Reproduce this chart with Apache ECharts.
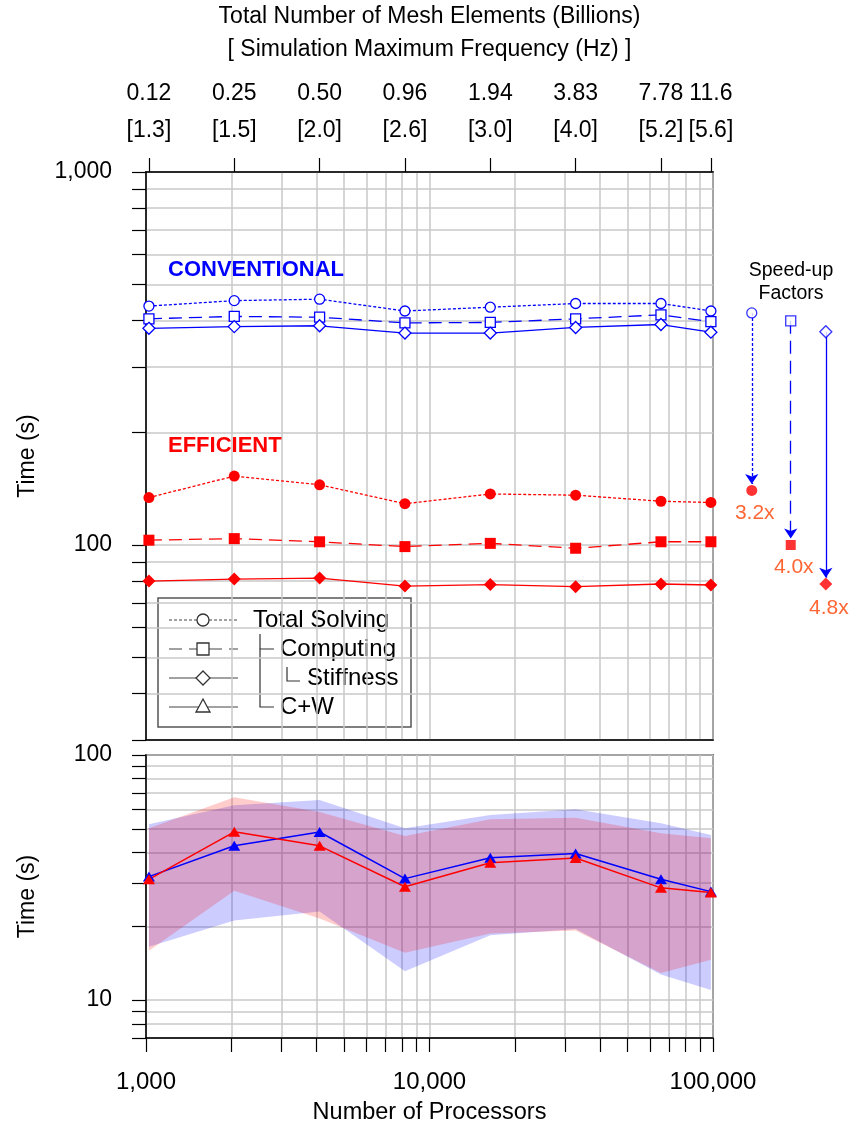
<!DOCTYPE html>
<html>
<head>
<meta charset="utf-8">
<script src="https://cdn.jsdelivr.net/npm/echarts@6/dist/echarts.min.js"></script>
<style>
  html, body { margin: 0; padding: 0; background: #fff; }
  #chart { width: 849px; height: 1134px; }
</style>
</head>
<body>
<div id="chart"></div>
<script>
// processors (x) and the matching top-axis labels
const processors = [1024, 2048, 4096, 8192, 16384, 32768, 65536, 98304];
const meshElements = ['0.12', '0.25', '0.50', '0.96', '1.94', '3.83', '7.78', '11.6'];
const maxFrequency = ['1.3', '1.5', '2.0', '2.6', '3.0', '4.0', '5.2', '5.6'];

// top panel (s)
const convTotal = [437, 452, 456, 424, 434, 444, 444, 424];
const convComputing = [404, 410, 408, 394, 395, 404, 414, 397];
const convStiffness = [381, 385, 387, 370, 370, 383, 390, 372];
const effTotal = [134, 153, 145, 129, 137, 136, 131, 130];
const effComputing = [103, 104, 102, 99, 101, 98, 102, 102];
const effStiffness = [80, 81, 81.5, 77.6, 78.3, 77.3, 78.6, 78.1];

// bottom panel C+W (s) and their ranges
const convCW = [31.9, 42.6, 48.5, 31.3, 38.1, 39.6, 31.1, 27.7];
const effCW = [31.1, 48.6, 42.6, 29.0, 36.3, 38.0, 28.7, 27.5];
const convCWLow = [16.5, 21.1, 23.0, 13.1, 18.4, 19.5, 12.7, 11.0];
const convCWHigh = [52.2, 62.4, 65.5, 50.2, 56.9, 60.0, 52.6, 47.2];
const effCWLow = [15.9, 27.9, 21.5, 15.6, 18.7, 19.2, 12.9, 14.6];
const effCWHigh = [50.2, 67.2, 58.5, 46.7, 54.7, 55.5, 47.9, 45.7];

// speed-up factors (drawn right of the plot)
const speedupX = [137000, 188000, 250000];
const speedupFrom = [419, 399, 373];
const speedupTo = [140, 100, 78.6];
const speedupLabels = ['3.2x', '4.0x', '4.8x'];

// tick values
const xTicks = [1000, 2000, 3000, 4000, 5000, 6000, 7000, 8000, 9000, 10000, 20000, 30000, 40000, 50000, 60000, 70000, 80000, 90000, 100000];
const xLabels = [1000, 10000, 100000];
const topYTicks = [30, 40, 50, 60, 70, 80, 90, 100, 200, 300, 400, 500, 600, 700, 800, 900, 1000];
const topYLabels = [100, 1000];
const botYTicks = [7, 8, 9, 10, 20, 30, 40, 50, 60, 70, 80, 90, 100];
const botYLabels = [10, 100];

const FONT = '"Liberation Sans", Arial, sans-serif';
const BLUE = '#0000ff';
const RED = '#ff0000';
const GRIDC = '#c8c8c8';

const fmt = v => Math.round(v).toLocaleString('en-US');
const pts = arr => processors.map((p, i) => [p, arr[i]]);

function xAxisLog(gridIndex, extra) {
    return Object.assign({
        type: 'log', logBase: 10, gridIndex: gridIndex, min: 1000, max: 100000,
        axisLine: { show: true, onZero: false, lineStyle: { color: '#000', width: 1.5 } },
        axisTick: { show: true, customValues: xTicks, length: 14, lineStyle: { color: '#000', width: 1.2 } },
        axisLabel: { show: false },
        splitLine: { show: true, lineStyle: { color: GRIDC, width: 1.5 } },
        minorTick: { show: false }, minorSplitLine: { show: false }
    }, extra);
}
function yAxisLog(gridIndex, min, max, ticks, labels) {
    return {
        type: 'log', logBase: 10, gridIndex: gridIndex, min: min, max: max,
        name: 'Time (s)', nameLocation: 'middle', nameGap: 107, nameMoveOverlap: false,
        nameTextStyle: { fontSize: 23, color: '#000', fontFamily: FONT },
        axisLine: { show: true, onZero: false, lineStyle: { color: '#000', width: 1.5 } },
        axisTick: { show: true, customValues: ticks, length: 14, lineStyle: { color: '#000', width: 1.2 } },
        axisLabel: { customValues: labels, formatter: fmt, fontSize: 23, color: '#000', fontFamily: FONT, margin: 34 },
        splitLine: { show: true, lineStyle: { color: GRIDC, width: 1.5 } },
        minorTick: { show: false }, minorSplitLine: { show: false }
    };
}

function topLine(name, data, color, symbol, size, dash, hollow) {
    return {
        name: name, type: 'line', xAxisIndex: 0, yAxisIndex: 0, data: pts(data),
        symbol: symbol, symbolSize: size, showAllSymbol: true,
        lineStyle: { color: color, width: 1.3, type: dash },
        itemStyle: hollow ? { color: '#fff', borderColor: color, borderWidth: 1.3 } : { color: color },
        z: 5
    };
}

// range band drawn as one polygon through the axes
function band(name, low, high, color) {
    return {
        name: name, type: 'custom', xAxisIndex: 2, yAxisIndex: 1, silent: true, z: 2,
        data: processors.map((p, i) => [p, low[i], high[i]]),
        encode: { x: 0, y: [1, 2] },
        renderItem: function (params, api) {
            if (params.dataIndex !== 0) return null;
            const upper = processors.map((p, i) => api.coord([p, high[i]]));
            const lower = processors.map((p, i) => api.coord([p, low[i]])).reverse();
            return { type: 'polygon', shape: { points: upper.concat(lower) }, style: { fill: color } };
        }
    };
}

const speedTopSymbols = ['circle', 'rect', 'diamond'];
const speedTopSizes = [10, 10, 12];
const speedBotSizes = [11, 10, 13];
const speedDash = [[3, 2], [13, 7], 'solid'];

const chart = echarts.init(document.getElementById('chart'), null, { renderer: 'canvas' });

const legendX = 158, legendY = 598;
const legendRows = [620, 649, 678, 707];

const option = {
    animation: false,
    backgroundColor: '#fff',
    textStyle: { fontFamily: FONT },
    grid: [
        { left: 146, top: 172, width: 567, height: 568, show: true, borderColor: '#000', borderWidth: 1.5, outerBoundsMode: 'none', containLabel: false },
        { left: 146, top: 755, width: 567, height: 283, show: true, borderColor: '#000', borderWidth: 1.5, outerBoundsMode: 'none', containLabel: false }
    ],
    xAxis: [
        xAxisLog(0, { axisTick: { show: false, customValues: xTicks } }),
        {
            type: 'log', logBase: 10, gridIndex: 0, position: 'top', min: 1000, max: 100000,
            name: 'Total Number of Mesh Elements (Billions)\n[ Simulation Maximum Frequency (Hz) ]',
            nameLocation: 'middle', nameGap: 106, nameMoveOverlap: false,
            nameTextStyle: { fontSize: 23, lineHeight: 33, color: '#000', fontFamily: FONT },
            axisLine: { show: true, onZero: false, lineStyle: { color: '#000', width: 1.5 } },
            axisTick: { show: true, customValues: processors, length: 14, lineStyle: { color: '#000', width: 1.2 } },
            axisLabel: {
                customValues: processors, fontSize: 23, lineHeight: 37, color: '#000', fontFamily: FONT, margin: 23,
                formatter: v => {
                    let best = 0;
                    processors.forEach((p, i) => { if (Math.abs(Math.log(p / v)) < Math.abs(Math.log(processors[best] / v))) best = i; });
                    return meshElements[best] + '\n[' + maxFrequency[best] + ']';
                }
            },
            splitLine: { show: false }, minorTick: { show: false }
        },
        xAxisLog(1, {
            name: 'Number of Processors', nameLocation: 'middle', nameGap: 63, nameMoveOverlap: false,
            nameTextStyle: { fontSize: 23.5, color: '#000', fontFamily: FONT },
            axisLabel: { show: true, customValues: xLabels, formatter: fmt, fontSize: 24, color: '#000', fontFamily: FONT, margin: 32 }
        })
    ],
    yAxis: [
        yAxisLog(0, 30, 1000, topYTicks, topYLabels),
        yAxisLog(1, 7, 100, botYTicks, botYLabels)
    ],
    series: [
        topLine('Conv Total', convTotal, BLUE, 'circle', 10, [3, 2], true),
        topLine('Conv Computing', convComputing, BLUE, 'rect', 10, [13, 7], true),
        topLine('Conv Stiffness', convStiffness, BLUE, 'diamond', 12, 'solid', true),
        topLine('Eff Total', effTotal, RED, 'circle', 11, [3, 2], false),
        topLine('Eff Computing', effComputing, RED, 'rect', 11, [13, 7], false),
        topLine('Eff Stiffness', effStiffness, RED, 'diamond', 13, 'solid', false),
        // speed-up arrows
        {
            type: 'lines', coordinateSystem: 'cartesian2d', xAxisIndex: 0, yAxisIndex: 0, clip: false,
            symbol: ['none', 'arrow'], symbolSize: 10, z: 4,
            data: speedupX.map((x, i) => ({
                coords: [[x, speedupFrom[i]], [x, speedupTo[i] * 1.04]],
                lineStyle: { color: BLUE, width: 1.3, type: speedDash[i], opacity: 1 }
            }))
        },
        {
            type: 'scatter', xAxisIndex: 0, yAxisIndex: 0, clip: false, z: 6,
            data: speedupX.map((x, i) => ({
                value: [x, speedupFrom[i]], symbol: speedTopSymbols[i], symbolSize: speedTopSizes[i]
            })),
            itemStyle: { color: '#fff', borderColor: BLUE, borderWidth: 1.3 }
        },
        {
            type: 'scatter', xAxisIndex: 0, yAxisIndex: 0, clip: false, z: 6,
            data: speedupX.map((x, i) => ({
                value: [x, speedupTo[i]], symbol: speedTopSymbols[i], symbolSize: speedBotSizes[i]
            })),
            itemStyle: { color: RED },
            label: {
                show: true, position: 'bottom', distance: 7, offset: [3, 0], color: '#ff4000', fontSize: 21, fontFamily: FONT,
                formatter: p => speedupLabels[p.dataIndex]
            }
        },
        // bottom panel ranges
        band('convBand', convCWLow, convCWHigh, 'rgba(0,0,255,0.2)'),
        band('effBand', effCWLow, effCWHigh, 'rgba(255,0,0,0.2)'),
        {
            name: 'Conv C+W', type: 'line', xAxisIndex: 2, yAxisIndex: 1, data: pts(convCW),
            symbol: 'triangle', symbolSize: [12, 10], lineStyle: { color: BLUE, width: 1.5 }, itemStyle: { color: BLUE }, z: 5
        },
        {
            name: 'Eff C+W', type: 'line', xAxisIndex: 2, yAxisIndex: 1, data: pts(effCW),
            symbol: 'triangle', symbolSize: [12, 10], lineStyle: { color: RED, width: 1.5 }, itemStyle: { color: RED }, z: 5
        }
    ],
    graphic: [
        { type: 'text', left: 168, top: 259, z: 10, style: { text: 'CONVENTIONAL', fill: BLUE, font: 'bold 22px ' + FONT } },
        { type: 'text', left: 168, top: 435, z: 10, style: { text: 'EFFICIENT', fill: RED, font: 'bold 22px ' + FONT } },
        { type: 'text', x: 791, y: 282, z: 10, style: { text: 'Speed-up\nFactors', fill: '#000', font: '19.5px ' + FONT, lineHeight: 23, align: 'center', verticalAlign: 'middle' } },
        {
            type: 'group', z: 100,
            children: [
                { type: 'rect', shape: { x: legendX, y: legendY, width: 253, height: 129 }, style: { fill: '#fff', stroke: '#555', lineWidth: 1.5 } },
                // sample lines
                { type: 'line', shape: { x1: 169, y1: legendRows[0], x2: 238, y2: legendRows[0] }, style: { stroke: '#444', lineWidth: 1.2, lineDash: [3, 2] } },
                { type: 'line', shape: { x1: 169, y1: legendRows[1], x2: 238, y2: legendRows[1] }, style: { stroke: '#444', lineWidth: 1.2, lineDash: [13, 7] } },
                { type: 'line', shape: { x1: 169, y1: legendRows[2], x2: 238, y2: legendRows[2] }, style: { stroke: '#444', lineWidth: 1.2 } },
                { type: 'line', shape: { x1: 169, y1: legendRows[3], x2: 238, y2: legendRows[3] }, style: { stroke: '#444', lineWidth: 1.2 } },
                // sample markers
                { type: 'circle', shape: { cx: 203, cy: legendRows[0], r: 6 }, style: { fill: '#fff', stroke: '#333', lineWidth: 1.3 } },
                { type: 'rect', shape: { x: 197, y: legendRows[1] - 6, width: 12, height: 12 }, style: { fill: '#fff', stroke: '#333', lineWidth: 1.3 } },
                { type: 'polygon', shape: { points: [[203, legendRows[2] - 7], [210, legendRows[2]], [203, legendRows[2] + 7], [196, legendRows[2]]] }, style: { fill: '#fff', stroke: '#333', lineWidth: 1.3 } },
                { type: 'polygon', shape: { points: [[203, legendRows[3] - 8], [210, legendRows[3] + 5], [196, legendRows[3] + 5]] }, style: { fill: '#fff', stroke: '#333', lineWidth: 1.3 } },
                // tree brackets
                { type: 'polyline', shape: { points: [[274, legendRows[1]], [260, legendRows[1]], [260, legendRows[3]], [274, legendRows[3]]] }, style: { stroke: '#333', lineWidth: 1.2, fill: null } },
                { type: 'line', shape: { x1: 260, y1: 634, x2: 260, y2: legendRows[1] }, style: { stroke: '#333', lineWidth: 1.2 } },
                { type: 'polyline', shape: { points: [[287, 667], [287, 681], [300, 681]] }, style: { stroke: '#333', lineWidth: 1.2, fill: null } },
                // texts
                { type: 'text', x: 253, y: legendRows[0], style: { text: 'Total Solving', fill: '#000', font: '24px ' + FONT, verticalAlign: 'middle' } },
                { type: 'text', x: 280, y: legendRows[1], style: { text: 'Computing', fill: '#000', font: '24px ' + FONT, verticalAlign: 'middle' } },
                { type: 'text', x: 307, y: legendRows[2], style: { text: 'Stiffness', fill: '#000', font: '24px ' + FONT, verticalAlign: 'middle' } },
                { type: 'text', x: 280, y: legendRows[3], style: { text: 'C+W', fill: '#000', font: '24px ' + FONT, verticalAlign: 'middle' } }
            ]
        }
    ]
};

chart.setOption(option);
window.addEventListener('resize', function () {
    chart.resize();
});
</script>
</body>
</html>
